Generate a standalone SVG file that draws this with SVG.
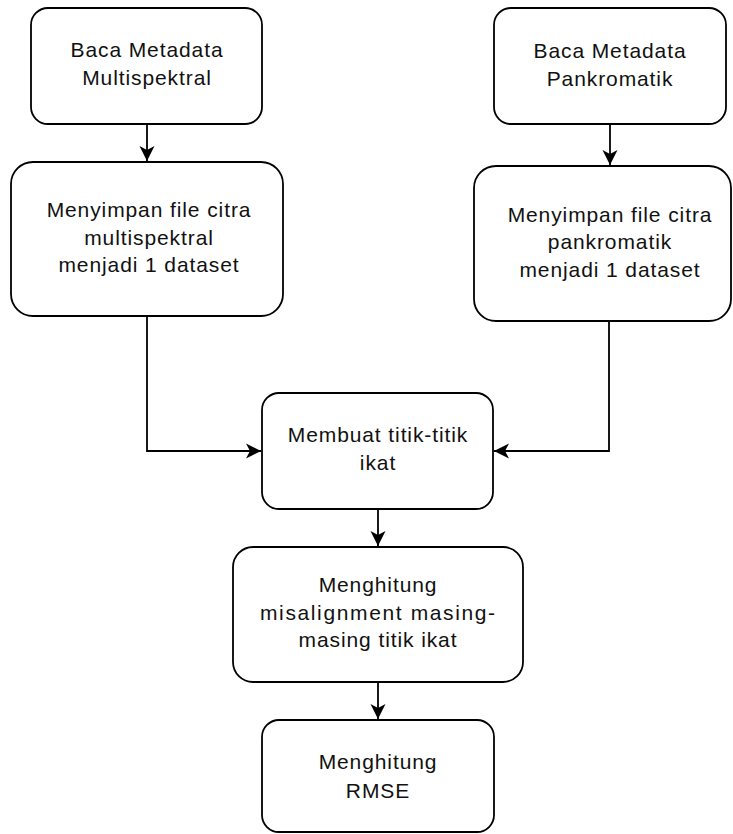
<svg xmlns="http://www.w3.org/2000/svg" width="733" height="834" viewBox="0 0 733 834">
<defs>
<style>
.box{fill:#ffffff;stroke:#000000;stroke-width:1.8}
.lbl{font-family:"Liberation Sans",Arial,sans-serif;font-size:21px;fill:#111111;text-anchor:middle;letter-spacing:0.9px}
.edge{fill:none;stroke:#000000;stroke-width:1.8}
</style>
<marker id="arr" markerUnits="userSpaceOnUse" markerWidth="18" markerHeight="18" viewBox="-16 -9 18 18" refX="0" refY="0" orient="auto">
<path d="M0,0 L-15,-7.5 L-11,0 L-15,7.5 Z" fill="#000000"/>
</marker>
</defs>
<rect width="733" height="834" fill="#ffffff"/>
<g id="connectors">
<path class="edge" d="M147,124 L147,161" marker-end="url(#arr)"/>
<path class="edge" d="M610,124 L610,165" marker-end="url(#arr)"/>
<path class="edge" d="M147,316 L147,451 L261,451" marker-end="url(#arr)"/>
<path class="edge" d="M609,321 L609,451 L494,451" marker-end="url(#arr)"/>
<path class="edge" d="M378,509 L378,546" marker-end="url(#arr)"/>
<path class="edge" d="M378,682 L378,719" marker-end="url(#arr)"/>
</g>
<g id="node1">
<rect class="box" x="31" y="8" width="231" height="116" rx="17" ry="17"/>
<text class="lbl" x="147" y="57">Baca Metadata</text>
<text class="lbl" x="147" y="85">Multispektral</text>
</g>
<g id="node3">
<rect class="box" x="494" y="8" width="232" height="116" rx="17" ry="17"/>
<text class="lbl" x="610" y="58">Baca Metadata</text>
<text class="lbl" x="610" y="86">Pankromatik</text>
</g>
<g id="node2">
<rect class="box" x="11" y="162" width="272" height="154" rx="22" ry="22"/>
<text class="lbl" x="149" y="217">Menyimpan file citra</text>
<text class="lbl" x="149" y="245">multispektral</text>
<text class="lbl" x="149" y="272">menjadi 1 dataset</text>
</g>
<g id="node4">
<rect class="box" x="474" y="166" width="257" height="155" rx="22" ry="22"/>
<text class="lbl" x="610" y="222">Menyimpan file citra</text>
<text class="lbl" x="610" y="249">pankromatik</text>
<text class="lbl" x="610" y="277">menjadi 1 dataset</text>
</g>
<g id="node5">
<rect class="box" x="262" y="393" width="231" height="116" rx="17" ry="17"/>
<text class="lbl" x="378" y="442">Membuat titik-titik</text>
<text class="lbl" x="378" y="470">ikat</text>
</g>
<g id="node6">
<rect class="box" x="233" y="547" width="290" height="135" rx="20" ry="20"/>
<text class="lbl" x="378" y="592">Menghitung</text>
<text class="lbl" x="378" y="620" textLength="236" lengthAdjust="spacing">misalignment masing-</text>
<text class="lbl" x="378" y="647">masing titik ikat</text>
</g>
<g id="node7">
<rect class="box" x="262" y="720" width="232" height="112" rx="17" ry="17"/>
<text class="lbl" x="378" y="769">Menghitung</text>
<text class="lbl" x="378" y="798">RMSE</text>
</g>
</svg>
